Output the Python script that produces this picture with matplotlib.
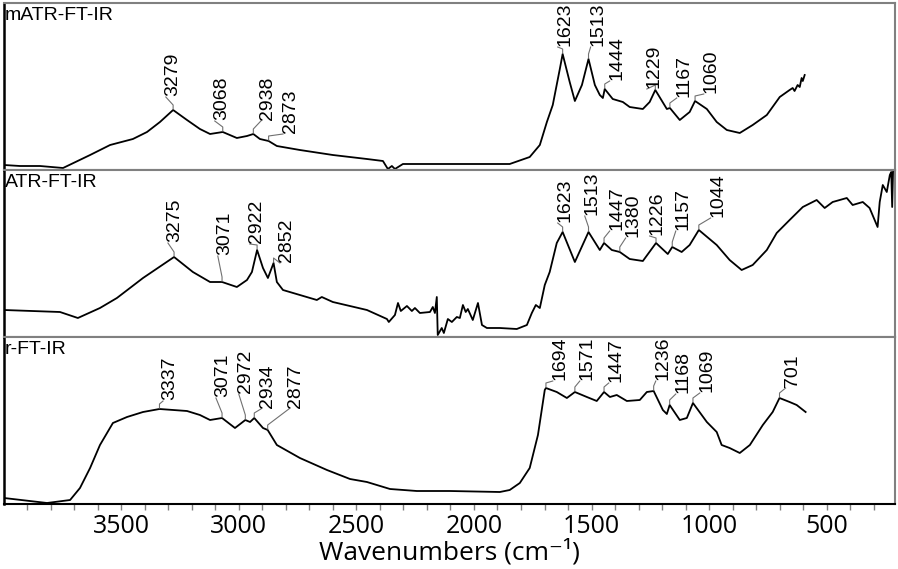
import matplotlib
matplotlib.use('Agg')
import matplotlib.pyplot as plt
import numpy as np
from matplotlib.ticker import MultipleLocator

# --- mATR-FT-IR (top) ---
m_wn = [3998, 3930, 3845, 3747, 3632, 3547, 3450, 3390, 3335, 3279, 3220, 3165, 3122, 3068,
        3008, 2965, 2938, 2910, 2873, 2838, 2740, 2600, 2455, 2387, 2366, 2349, 2336, 2302,
        2102, 1848, 1763, 1720, 1690, 1665, 1635, 1623, 1593, 1571, 1541, 1513, 1486, 1465,
        1452, 1444, 1410, 1367, 1338, 1282, 1253, 1229, 1180, 1167, 1125, 1083, 1060, 1010,
        968, 925, 870, 815, 755, 700, 658, 645, 637, 624, 615, 607, 602, 594]
m_int = [5, 4, 4, 2, 15, 25, 31, 38, 48, 60, 50, 41, 36, 38,
         32, 34, 36, 31, 29, 24, 20, 15, 11, 9, 1, 4, 1, 6,
         6, 6, 13, 25, 48, 65, 101, 116, 88, 69, 85, 111, 85, 75,
         72, 81, 71, 68, 63, 61, 68, 80, 61, 62, 50, 58, 69, 61,
         48, 40, 37, 45, 55, 73, 80, 82, 79, 85, 83, 92, 89, 95]
m_peaks = [3279, 3068, 2938, 2873, 1623, 1513, 1444, 1229, 1167, 1060]
m_peak_int = [60, 38, 36, 29, 116, 111, 81, 80, 62, 69]
m_text_wn = [3280, 3072, 2876, 2782, 1614, 1474, 1393, 1235, 1108, 993]
m_text_h = [74, 50, 50, 37, 124, 124, 90, 82, 73, 77]

# --- ATR-FT-IR (middle) ---
a_wn = [3998, 3760, 3684, 3590, 3518, 3407, 3275, 3195, 3122, 3071, 3008, 2965, 2944, 2922,
        2897, 2876, 2852, 2838, 2812, 2668, 2647, 2600, 2455, 2370, 2362, 2336, 2323, 2311,
        2285, 2264, 2251, 2230, 2187, 2175, 2166, 2158, 2154, 2137, 2128, 2111, 2094, 2073,
        2060, 2047, 2035, 2026, 2005, 1983, 1966, 1945, 1890, 1818, 1775, 1754, 1737, 1720,
        1699, 1678, 1648, 1623, 1571, 1513, 1465, 1447, 1414, 1380, 1338, 1282, 1226, 1176,
        1157, 1117, 1083, 1044, 968, 913, 862, 815, 755, 713, 658, 602, 543, 509,
        475, 415, 390, 347, 318, 284, 275, 262, 245, 232, 226, 222, 218, 214]
a_int = [27, 25, 19, 29, 39, 59, 80, 65, 55, 55, 50, 57, 65, 87,
         69, 59, 74, 55, 47, 37, 40, 35, 27, 18, 15, 22, 34, 26,
         31, 26, 29, 24, 25, 30, 24, 40, 2, 9, 4, 18, 15, 20,
         19, 32, 25, 28, 17, 34, 12, 9, 9, 8, 12, 24, 32, 29,
         52, 65, 94, 105, 75, 105, 87, 94, 87, 85, 78, 76, 94, 83,
         90, 85, 92, 107, 92, 77, 67, 72, 87, 104, 117, 130, 137, 129,
         135, 139, 132, 135, 129, 110, 135, 152, 145, 162, 165, 130, 168, 170]
a_peaks = [3275, 3071, 2922, 2852, 1623, 1513, 1447, 1380, 1226, 1157, 1044]
a_peak_int = [80, 55, 87, 74, 105, 105, 94, 85, 94, 90, 107]
a_text_wn = [3271, 3059, 2923, 2795, 1614, 1499, 1393, 1325, 1223, 1112, 964]
a_text_h = [95, 82, 94, 75, 115, 122, 107, 100, 102, 107, 120]

# --- r-FT-IR (bottom) ---
r_wn = [3998, 3815, 3717, 3675, 3632, 3590, 3535, 3475, 3407, 3337, 3220, 3165, 3122, 3071,
        3016, 2972, 2952, 2934, 2897, 2877, 2838, 2740, 2625, 2527, 2455, 2357, 2243, 2102,
        1890, 1848, 1805, 1763, 1728, 1699, 1694, 1648, 1605, 1571, 1520, 1478, 1447, 1422,
        1393, 1350, 1295, 1265, 1236, 1197, 1180, 1168, 1125, 1095, 1069, 1010, 968, 947,
        913, 870, 827, 772, 730, 701, 658, 628, 590]
r_int = [6, 1, 4, 16, 36, 59, 81, 87, 92, 95, 93, 89, 84, 86,
         76, 84, 82, 86, 76, 74, 59, 46, 34, 25, 22, 15, 13, 13,
         12, 14, 21, 36, 69, 114, 116, 112, 106, 112, 107, 103, 112, 107,
         109, 103, 104, 112, 113, 94, 90, 99, 84, 86, 101, 82, 72, 59,
         56, 51, 59, 79, 92, 106, 102, 99, 92]
r_peaks = [3337, 3071, 2972, 2934, 2877, 1694, 1571, 1447, 1236, 1168, 1069, 701]
r_peak_int = [95, 86, 84, 86, 74, 116, 112, 112, 113, 99, 101, 106]
r_text_wn = [3292, 3067, 2970, 2876, 2757, 1635, 1520, 1397, 1197, 1112, 1010, 645]
r_text_h = [104, 107, 111, 96, 96, 124, 124, 122, 124, 111, 112, 117]

tick_labels = [3500, 3000, 2500, 2000, 1500, 1000, 500]

panels = [
    ('mATR-FT-IR', m_wn, m_int, m_peaks, m_peak_int, m_text_wn, m_text_h),
    ('ATR-FT-IR', a_wn, a_int, a_peaks, a_peak_int, a_text_wn, a_text_h),
    ('r-FT-IR', r_wn, r_int, r_peaks, r_peak_int, r_text_wn, r_text_h),
]

fig = plt.figure(figsize=(8.98, 5.69), dpi=100)
left, right = 4 / 898, 895 / 898
top, bottom = 1 - 3 / 569, 1 - 504 / 569
h = (top - bottom) / 3

for i, (name, wn, inten, pk, pk_h, tx, th) in enumerate(panels):
    ax = fig.add_axes([left, top - (i + 1) * h, right - left, h])
    ax.plot(wn, inten, color='black', lw=1.3)
    ax.set_xlim(3998, 210)
    ax.set_ylim(0, 167)
    ax.set_yticks([])

    # peak labels with small grey leader lines
    for p, ph, x, y in zip(pk, pk_h, tx, th):
        ax.plot([p, p, x + 30], [ph + 1, ph + 5, y - 1], color='#707070', lw=0.8)
        ax.text(x, y, str(p), rotation=90, ha='center', va='bottom',
                fontsize=14, family='Liberation Sans')

    ax.text(0.001, 1 - 4 / 167, name, transform=ax.transAxes, ha='left', va='top',
            fontsize=14, family='Liberation Sans')

    for s in ['top', 'right', 'bottom']:
        ax.spines[s].set_color('#808080')
        ax.spines[s].set_linewidth(1.5)
    ax.spines['left'].set_color('black')
    ax.spines['left'].set_linewidth(1.8)

    if i < 2:
        ax.set_xticks([])
    else:
        ax.spines['bottom'].set_color('black')
        ax.xaxis.set_minor_locator(MultipleLocator(100))
        ax.set_xticks(tick_labels)
        ax.tick_params(axis='x', which='both', direction='out', color='#808080',
                       length=4, width=1, pad=3, labelsize=18)
        for t in ax.get_xticklabels():
            t.set_family('Open Sans')
        ax.set_xlabel('Wavenumbers (cm\u207b\u00b9)', fontsize=19,
                      family=['Open Sans', 'DejaVu Sans'], labelpad=0)

fig.savefig('out.png', dpi=100)
